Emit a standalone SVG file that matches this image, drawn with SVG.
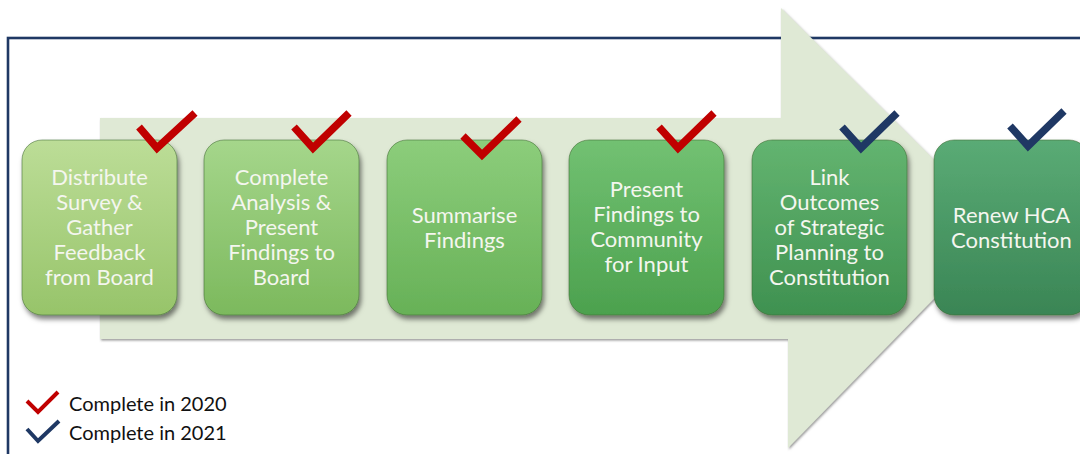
<svg xmlns="http://www.w3.org/2000/svg" width="1080" height="454" viewBox="0 0 1080 454">
<defs>
<filter id="sh" x="-10%" y="-10%" width="130%" height="130%">
<feDropShadow dx="2" dy="4" stdDeviation="2.5" flood-color="#000" flood-opacity="0.5"/>
</filter>
<filter id="ash" x="-5%" y="-5%" width="110%" height="110%">
<feDropShadow dx="1" dy="1.5" stdDeviation="0.8" flood-color="#555" flood-opacity="0.6"/>
</filter>
<linearGradient id="g1" x1="0" y1="0" x2="0" y2="1"><stop offset="0" stop-color="#bcdd97"/><stop offset="1" stop-color="#97c46a"/></linearGradient>
<linearGradient id="g2" x1="0" y1="0" x2="0" y2="1"><stop offset="0" stop-color="#a5d68b"/><stop offset="1" stop-color="#7cb95d"/></linearGradient>
<linearGradient id="g3" x1="0" y1="0" x2="0" y2="1"><stop offset="0" stop-color="#8ccd7b"/><stop offset="1" stop-color="#67b157"/></linearGradient>
<linearGradient id="g4" x1="0" y1="0" x2="0" y2="1"><stop offset="0" stop-color="#72c172"/><stop offset="1" stop-color="#4ca14e"/></linearGradient>
<linearGradient id="g5" x1="0" y1="0" x2="0" y2="1"><stop offset="0" stop-color="#63b470"/><stop offset="1" stop-color="#3f9150"/></linearGradient>
<linearGradient id="g6" x1="0" y1="0" x2="0" y2="1"><stop offset="0" stop-color="#5aab75"/><stop offset="1" stop-color="#3a8555"/></linearGradient>
</defs>
<style>
.box{stroke:#3f6a33;stroke-opacity:0.55;stroke-width:1;filter:url(#sh)}
.t{font-family:Lato,"Open Sans","Liberation Sans",sans-serif;font-size:22px;fill:#f4f6ef;text-anchor:middle}
.lg{font-family:Lato,"Open Sans","Liberation Sans",sans-serif;font-size:20px;fill:#111111}
.ck{fill:none;stroke-width:7.5;stroke-linejoin:miter;stroke-miterlimit:10}
.red{stroke:#c00000}
.blue{stroke:#1f3864}
</style>
<rect x="0" y="0" width="1080" height="454" fill="#ffffff"/>
<g id="frame">
<rect x="8" y="38" width="1200" height="600" fill="none" stroke="#1f3864" stroke-width="2.6"/>
</g>
<g id="arrow">
<polygon points="100,118 781,118 781,8 1003,228 788,448 788,339 100,339" fill="#dfe9d5" filter="url(#ash)"/>
</g>
<g id="connectors"></g>
<g id="n1">
<rect class="box" x="22" y="140" width="155" height="175" rx="20" fill="url(#g1)"/>
<text class="t" x="99.5"><tspan x="99.5" y="185">Distribute</tspan><tspan x="99.5" y="210">Survey &amp;</tspan><tspan x="99.5" y="235">Gather</tspan><tspan x="99.5" y="260">Feedback</tspan><tspan x="99.5" y="285">from Board</tspan></text>
<polyline class="ck red" points="139,127 157,148 195,113"/>
</g>
<g id="n2">
<rect class="box" x="204" y="140" width="155" height="175" rx="20" fill="url(#g2)"/>
<text class="t" x="281.5"><tspan x="281.5" y="185">Complete</tspan><tspan x="281.5" y="210">Analysis &amp;</tspan><tspan x="281.5" y="235">Present</tspan><tspan x="281.5" y="260">Findings to</tspan><tspan x="281.5" y="285">Board</tspan></text>
<polyline class="ck red" points="294,127 313,148 349,113"/>
</g>
<g id="n3">
<rect class="box" x="387" y="140" width="155" height="175" rx="20" fill="url(#g3)"/>
<text class="t" x="464.5"><tspan x="464.5" y="223">Summarise</tspan><tspan x="464.5" y="248">Findings</tspan></text>
<polyline class="ck red" points="463,136 482,155 519,119"/>
</g>
<g id="n4">
<rect class="box" x="569" y="140" width="155" height="175" rx="20" fill="url(#g4)"/>
<text class="t" x="646.5"><tspan x="646.5" y="197">Present</tspan><tspan x="646.5" y="222">Findings to</tspan><tspan x="646.5" y="247">Community</tspan><tspan x="646.5" y="272">for Input</tspan></text>
<polyline class="ck red" points="659,127 678,148 714,113"/>
</g>
<g id="n5">
<rect class="box" x="752" y="140" width="155" height="175" rx="20" fill="url(#g5)"/>
<text class="t" x="829.5"><tspan x="829.5" y="185">Link</tspan><tspan x="829.5" y="210">Outcomes</tspan><tspan x="829.5" y="235">of Strategic</tspan><tspan x="829.5" y="260">Planning to</tspan><tspan x="829.5" y="285">Constitution</tspan></text>
<polyline class="ck blue" points="842,127 861,148 897,113"/>
</g>
<g id="n6">
<rect class="box" x="934" y="140" width="155" height="175" rx="20" fill="url(#g6)"/>
<text class="t" x="1011.5"><tspan x="1011.5" y="223">Renew HCA</tspan><tspan x="1011.5" y="248">Constitution</tspan></text>
<polyline class="ck blue" points="1010,126 1028,146 1064,111"/>
</g>
<g id="legend">
<polyline class="red" fill="none" stroke-width="4" points="27,401 38,412 58,392"/>
<text class="lg" x="69" y="411">Complete in 2020</text>
<polyline class="blue" fill="none" stroke-width="4" points="27,429 38,441 59,421"/>
<text class="lg" x="69" y="440">Complete in 2021</text>
</g>
</svg>
